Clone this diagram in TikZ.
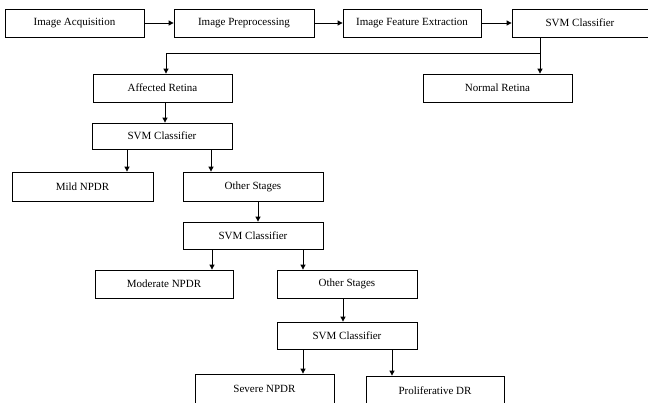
\documentclass[tikz,border=0pt]{standalone}
\usepackage{fontspec}
\setmainfont{Liberation Serif}
\usetikzlibrary{arrows.meta}
\begin{document}
\begin{tikzpicture}[x=1pt,y=-1pt,
  box/.style={draw=black, line width=0.8pt, fill=white, inner sep=0pt, font=\fontsize{11}{13}\selectfont, minimum height=28pt},
  arr/.style={draw=black, line width=0.8pt, -{Triangle[length=5pt,width=5pt]}},
  ln/.style={draw=black, line width=0.8pt}]
\useasboundingbox (0,0) rectangle (648,402);
\clip (0,0) rectangle (648,402);
\fill[white] (0,0) rectangle (648,402);
% top row
\node[box, minimum width=139pt] (acq) at (74.5,23) {Image Acquisition};
\node[box, minimum width=140pt] (pre) at (244,23) {Image Preprocessing};
\node[box, minimum width=138pt] (fex) at (412,23) {Image Feature Extraction};
\node[box, minimum width=136pt] (svma) at (580,23) {SVM Classifier};
\draw[arr] (acq.east) -- (pre.west);
\draw[arr] (pre.east) -- (fex.west);
\draw[arr] (fex.east) -- (svma.west);
% second row
\node[box, minimum width=139pt] (aff) at (162.5,88) {Affected Retina};
\node[box, minimum width=149pt] (nor) at (497.5,88) {Normal Retina};
\coordinate (split) at ([xshift=-40pt]svma.south |- 0,53);
\draw[ln] ([xshift=-40pt]svma.south) -- (split);
\draw[arr] (split) -- ([xshift=3.5pt]aff.north |- split) -- ([xshift=3.5pt]aff.north);
\draw[arr] (split) -- (split |- nor.north);
% SVM 2
\node[box, minimum width=140pt, minimum height=26pt] (svmb) at (162,136) {SVM Classifier};
\draw[arr] ([xshift=2.5pt]aff.south) -- ([xshift=2.5pt]aff.south |- svmb.north);
\node[box, minimum width=141pt, minimum height=29pt] (mild) at (82.5,186.5) {Mild NPDR};
\node[box, minimum width=140pt, minimum height=29pt] (oth1) at (253,186.5) {Other Stages};
\draw[arr] ([xshift=-35pt]svmb.south) -- ([xshift=-35pt]svmb.south |- mild.north);
\draw[arr] ([xshift=49pt]svmb.south) -- ([xshift=49pt]svmb.south |- oth1.north);
% SVM 3
\node[box, minimum width=140pt, minimum height=27pt] (svmc) at (253,235.5) {SVM Classifier};
\draw[arr] ([xshift=5pt]oth1.south) -- ([xshift=5pt]oth1.south |- svmc.north);
\node[box, minimum width=138pt] (mod) at (164,284) {Moderate NPDR};
\node[box, minimum width=140pt] (oth2) at (347,284) {Other Stages};
\draw[arr] ([xshift=-41pt]svmc.south) -- ([xshift=-41pt]svmc.south |- mod.north);
\draw[arr] ([xshift=50pt]svmc.south) -- ([xshift=50pt]svmc.south |- oth2.north);
% SVM 4
\node[box, minimum width=140pt, minimum height=27pt] (svmd) at (347,335.5) {SVM Classifier};
\draw[arr] ([xshift=-4pt]oth2.south) -- ([xshift=-4pt]oth2.south |- svmd.north);
\node[box, minimum width=139pt, minimum height=30pt] (sev) at (264.5,389) {Severe NPDR};
\node[box, minimum width=138pt, minimum height=30pt] (pro) at (435,391) {Proliferative DR};
\draw[arr] ([xshift=-44pt]svmd.south) -- ([xshift=-44pt]svmd.south |- sev.north);
\draw[arr] ([xshift=45pt]svmd.south) -- ([xshift=45pt]svmd.south |- pro.north);
\end{tikzpicture}
\end{document}
